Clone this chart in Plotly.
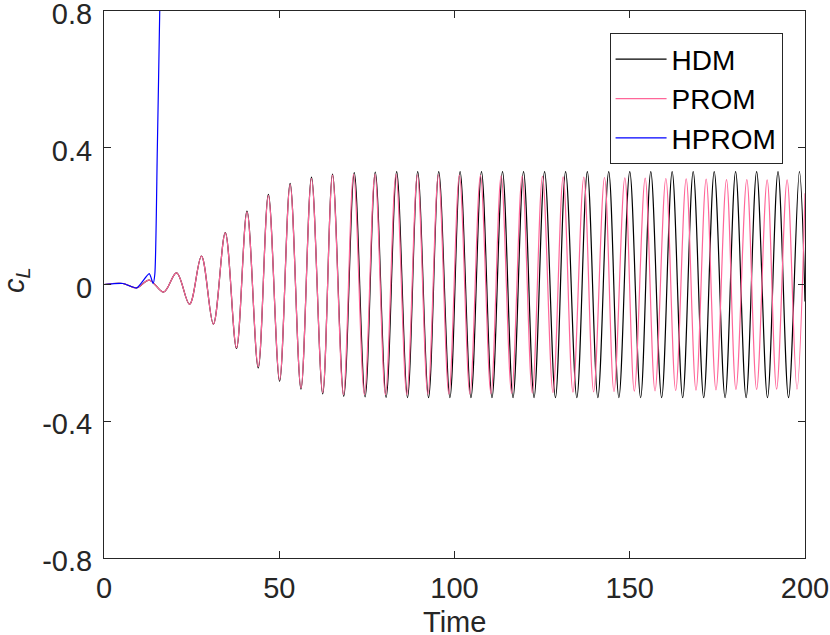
import plotly.graph_objects as go

# extrema (time, lift coefficient)
hdm_t = [0.0, 5.4, 9.3, 12.9, 17.0, 20.7, 24.4, 27.8, 31.2, 34.6, 37.8, 40.8, 44.0, 46.9,
         50.1, 53.1, 56.2, 59.2, 62.4, 65.2, 68.4, 71.4, 74.5, 77.4, 80.5, 83.5, 86.6,
         89.5, 92.6, 95.5, 98.7, 101.6, 104.7, 107.7, 110.7, 113.7, 116.7, 119.7, 122.7,
         125.7, 128.8, 131.7, 134.9, 137.9, 140.9, 144.0, 146.9, 150.0, 153.1, 156.0,
         159.1, 162.1, 165.1, 168.1, 171.1, 174.1, 177.2, 180.2, 183.2, 186.2, 189.3,
         192.3, 195.3, 198.4, 200.0]
hdm_cl = [0.000, 0.003, -0.010, 0.013, -0.022, 0.034, -0.058, 0.083, -0.116, 0.152, -0.187,
          0.215, -0.244, 0.264, -0.283, 0.296, -0.306, 0.314, -0.320, 0.323, -0.327, 0.327,
          -0.329, 0.329, -0.330, 0.330, -0.331, 0.330, -0.331, 0.330, -0.331, 0.330, -0.331,
          0.330, -0.331, 0.330, -0.331, 0.330, -0.331, 0.330, -0.331, 0.330, -0.331, 0.330,
          -0.331, 0.330, -0.331, 0.330, -0.331, 0.330, -0.331, 0.330, -0.331, 0.330, -0.331,
          0.330, -0.331, 0.330, -0.331, 0.330, -0.331, 0.330, -0.331, 0.330, -0.050]

prom_t = [0.0, 5.4, 9.3, 12.9, 17.0, 20.7, 24.4, 27.8, 31.2, 34.6, 37.8, 40.8, 44.0, 46.9,
          50.1, 53.1, 56.2, 59.2, 62.4, 65.2, 68.3, 71.2, 74.3, 77.3, 80.3, 83.3, 86.4,
          89.4, 92.4, 95.4, 98.4, 101.4, 104.4, 107.4, 110.4, 113.3, 116.3, 119.3, 122.2,
          125.1, 128.1, 131.0, 133.8, 136.9, 139.7, 142.8, 145.5, 148.6, 151.3, 154.4,
          157.2, 160.3, 163.1, 166.1, 168.9, 171.8, 174.6, 177.6, 180.3, 183.4, 186.2,
          189.2, 191.9, 194.9, 197.7, 200.0]
prom_cl = [0.000, 0.003, -0.010, 0.013, -0.022, 0.034, -0.058, 0.083, -0.116, 0.151, -0.185,
           0.212, -0.240, 0.260, -0.279, 0.292, -0.303, 0.310, -0.316, 0.320, -0.322, 0.322,
           -0.322, 0.322, -0.322, 0.322, -0.322, 0.321, -0.321, 0.321, -0.320, 0.320, -0.320,
           0.319, -0.319, 0.318, -0.318, 0.317, -0.317, 0.316, -0.316, 0.315, -0.315, 0.314,
           -0.314, 0.313, -0.313, 0.312, -0.312, 0.311, -0.311, 0.310, -0.310, 0.309, -0.309,
           0.308, -0.308, 0.307, -0.307, 0.307, -0.307, 0.306, -0.306, 0.306, -0.306, 0.267]

hprom_t = [0.0, 5.4, 9.3, 12.9, 14.0, 14.5, 15.2, 15.9, 16.3]
hprom_cl = [0.000, 0.003, -0.010, 0.032, 0.003, 0.030, 0.390, 0.800, 1.100]

ink = "#262626"
font = "Liberation Sans, Arial, Helvetica, sans-serif"

fig = go.Figure()
fig.add_trace(go.Scatter(x=hdm_t, y=hdm_cl, mode="lines", name="HDM",
                         line=dict(color="black", width=1.2, shape="spline", smoothing=1)))
fig.add_trace(go.Scatter(x=prom_t, y=prom_cl, mode="lines", name="PROM",
                         line=dict(color="#FF6699", width=1.2, shape="spline", smoothing=1)))
fig.add_trace(go.Scatter(x=hprom_t, y=hprom_cl, mode="lines", name="HPROM",
                         line=dict(color="#0000FF", width=1.2, shape="spline", smoothing=0.6)))

fig.update_layout(
    template="none",
    autosize=False,
    width=830,
    height=635,
    margin=dict(l=104, r=25, t=11, b=77, pad=0),
    paper_bgcolor="white",
    plot_bgcolor="white",
    font=dict(family=font, size=29, color=ink),
    legend=dict(
        x=0.968, y=0.959, xanchor="right", yanchor="top",
        bgcolor="white", bordercolor=ink, borderwidth=1,
        font=dict(family=font, size=28, color="black"),
        itemwidth=51,
        tracegroupgap=0,
    ),
)

fig.update_xaxes(
    range=[0, 200],
    tickvals=[0, 50, 100, 150, 200],
    ticks="inside",
    ticklen=7,
    tickcolor=ink,
    ticklabelstandoff=4,
    ticklabeloverflow="allow",
    showline=True,
    linewidth=1,
    linecolor=ink,
    mirror="ticks",
    showgrid=False,
    zeroline=False,
)

fig.update_yaxes(
    range=[-0.8, 0.8],
    tickvals=[-0.8, -0.4, 0, 0.4, 0.8],
    ticktext=["-0.8", "-0.4", "0", "0.4", "0.8"],
    ticks="inside",
    ticklen=7,
    tickcolor=ink,
    ticklabelstandoff=5,
    ticklabelshift=3,
    ticklabeloverflow="allow",
    showline=True,
    linewidth=1,
    linecolor=ink,
    mirror="ticks",
    showgrid=False,
    zeroline=False,
)

# axis titles as annotations, since axis titles are held inside the margins
fig.add_annotation(text="Time", xref="paper", yref="paper", x=0.5, y=0,
                   xanchor="center", yanchor="top", yshift=-46, showarrow=False,
                   font=dict(family=font, size=29, color=ink))
fig.add_annotation(text="<i>c</i><sub><i>L</i></sub>", xref="paper", yref="paper",
                   x=0, y=0.508, xanchor="center", yanchor="middle", xshift=-88,
                   textangle=-90, showarrow=False,
                   font=dict(family=font, size=29, color=ink))

# drop the default body margin so the figure sits at the window's corner
fig.write_html("out.html", config={"displayModeBar": False},
               post_script="document.body.style.margin = '0';")
